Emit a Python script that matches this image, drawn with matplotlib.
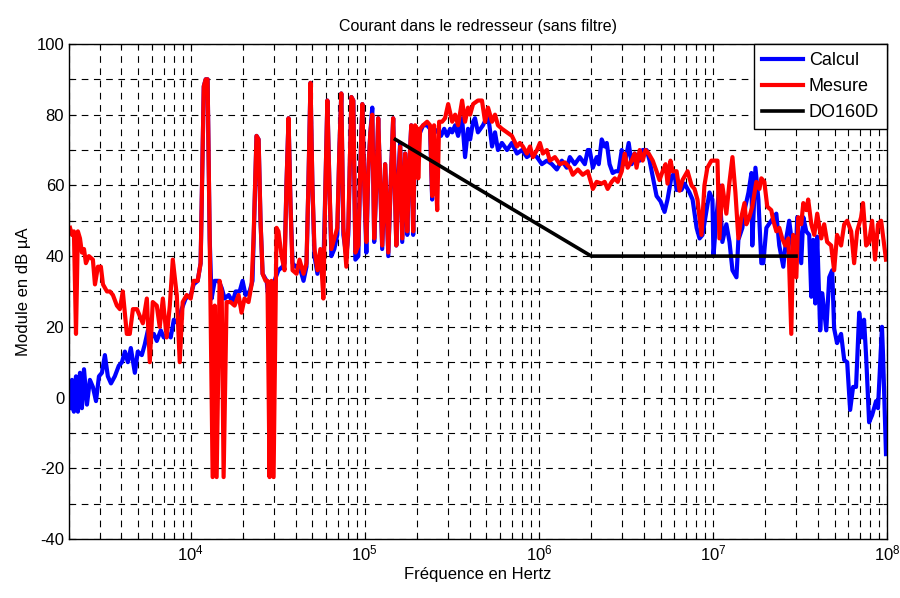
import numpy as np
import matplotlib
matplotlib.use("Agg")
import matplotlib.pyplot as plt
from matplotlib.ticker import LogLocator, MultipleLocator

plt.rcParams["font.family"] = ["Liberation Sans", "DejaVu Sans"]
plt.rcParams["axes.unicode_minus"] = False

# frequences en log10(Hz), valeurs en dB µA
lf_calcul = [
    3.307, 3.318, 3.329, 3.341, 3.352, 3.364, 3.375, 3.387, 3.404, 3.421,
    3.438, 3.456, 3.473, 3.490, 3.507, 3.524, 3.542, 3.564, 3.587, 3.605,
    3.622, 3.639, 3.656, 3.679, 3.696, 3.719, 3.736, 3.754, 3.771, 3.788,
    3.805, 3.828, 3.845, 3.868, 3.885, 3.903, 3.925, 3.948, 3.971, 4.000,
    4.017, 4.040, 4.057, 4.075, 4.086, 4.097, 4.109, 4.120, 4.138, 4.160,
    4.178, 4.195, 4.218, 4.241, 4.258, 4.281, 4.298, 4.315, 4.338, 4.355,
    4.378, 4.390, 4.401, 4.413, 4.436, 4.447, 4.464, 4.481, 4.504, 4.527,
    4.539, 4.550, 4.562, 4.573, 4.585, 4.602, 4.625, 4.648, 4.665, 4.676,
    4.688, 4.699, 4.711, 4.728, 4.745, 4.762, 4.774, 4.785, 4.797, 4.808,
    4.825, 4.842, 4.854, 4.865, 4.877, 4.894, 4.905, 4.923, 4.934, 4.946,
    4.963, 4.974, 4.986, 4.997, 5.009, 5.020, 5.032, 5.043, 5.054, 5.066,
    5.077, 5.089, 5.100, 5.117, 5.135, 5.152, 5.163, 5.181, 5.192, 5.203,
    5.215, 5.232, 5.244, 5.255, 5.267, 5.278, 5.289, 5.301, 5.318, 5.335,
    5.358, 5.375, 5.387, 5.398, 5.421, 5.438, 5.456, 5.473, 5.490, 5.502,
    5.519, 5.536, 5.559, 5.576, 5.593, 5.605, 5.622, 5.633, 5.650, 5.679,
    5.708, 5.731, 5.748, 5.765, 5.788, 5.817, 5.845, 5.874, 5.903, 5.931,
    5.960, 5.989, 6.017, 6.046, 6.075, 6.103, 6.132, 6.160, 6.178, 6.206,
    6.235, 6.264, 6.281, 6.292, 6.310, 6.332, 6.344, 6.361, 6.378, 6.390,
    6.406, 6.424, 6.441, 6.458, 6.476, 6.493, 6.516, 6.533, 6.550, 6.579,
    6.596, 6.619, 6.636, 6.654, 6.676, 6.699, 6.722, 6.739, 6.762, 6.779,
    6.791, 6.819, 6.837, 6.865, 6.883, 6.906, 6.923, 6.940, 6.963, 6.980,
    6.997, 7.003, 7.020, 7.037, 7.054, 7.077, 7.095, 7.112, 7.135, 7.146,
    7.169, 7.186, 7.204, 7.221, 7.226, 7.244, 7.261, 7.278, 7.289, 7.307,
    7.335, 7.364, 7.381, 7.404, 7.421, 7.438, 7.456, 7.473, 7.484, 7.507,
    7.519, 7.536, 7.553, 7.565, 7.576, 7.588, 7.599, 7.616, 7.628, 7.651,
    7.668, 7.685, 7.696, 7.713, 7.736, 7.754, 7.771, 7.788, 7.805, 7.822,
    7.840, 7.857, 7.868, 7.880, 7.897, 7.914, 7.937, 7.948, 7.971, 7.977,
    7.994,
]
db_calcul = [
    -3, 5, -4, 6, -4, 7, -3, 8, -2, 5,
    3, -1, 6, 7, 12, 6, 4, 6, 9, 10,
    13, 10, 14, 7, 13, 12, 15, 19, 17, 18,
    16, 19, 17, 18, 17, 22, 21, 25, 28, 29,
    32, 33, 38, 88, 90, 90, 45, 28, 33, 33,
    31, 28, 29, 27, 30, 30, 33, 29, 30, 33,
    74, 73, 50, 35, 33, 28, 32, 33, 36, 37,
    38, 60, 79, 55, 38, 37, 37, 33, 37, 60,
    89, 60, 40, 35, 40, 37, 60, 84, 60, 40,
    42, 46, 70, 86, 46, 40, 46, 85, 84, 39,
    40, 65, 83, 60, 41, 64, 75, 82, 44, 60,
    79, 60, 42, 66, 40, 65, 79, 43, 62, 72,
    44, 69, 46, 65, 77, 46, 76, 75, 75, 77,
    77, 76, 56, 76, 75, 74, 76, 74, 76, 75,
    77, 74, 79, 68, 76, 73, 78, 79, 75, 77,
    80, 71, 75, 70, 72, 70, 72, 69, 70, 68,
    69, 68, 66, 67, 66, 64.5, 67, 65, 68, 66,
    68, 66, 70, 70, 65, 68, 66, 73, 71, 72,
    66, 63.5, 64, 64, 70, 66, 72, 66, 69, 67,
    70, 70, 67, 62.5, 57, 55.5, 52.5, 56, 62.5, 63.5,
    58.7, 58.7, 60.5, 58, 56, 48, 45, 46, 53, 58,
    56, 40, 51, 60, 44, 49, 44, 36, 34, 44.6,
    48, 54, 58, 63.5, 43, 65, 56, 38, 38, 48,
    50, 52, 43, 37, 45, 50, 43, 36, 51, 38,
    51, 47, 46, 28.5, 44.6, 26.6, 45.5, 19, 29.5, 19,
    34, 36, 19.5, 15.4, 18, 10.6, 10, -3.5, 3, 3,
    24, 17, 22, 11.5, -7, -5, -1, -3, 20, 12,
    -16,
]

lf_mesure = [
    3.307, 3.318, 3.329, 3.341, 3.352, 3.364, 3.375, 3.387, 3.398, 3.415,
    3.438, 3.450, 3.467, 3.484, 3.496, 3.519, 3.536, 3.553, 3.576, 3.593,
    3.610, 3.633, 3.650, 3.668, 3.691, 3.708, 3.725, 3.748, 3.765, 3.782,
    3.805, 3.822, 3.840, 3.862, 3.880, 3.897, 3.920, 3.937, 3.954, 3.977,
    4.000, 4.017, 4.040, 4.057, 4.075, 4.086, 4.097, 4.109, 4.126, 4.138,
    4.149, 4.166, 4.178, 4.189, 4.206, 4.229, 4.252, 4.275, 4.292, 4.309,
    4.332, 4.350, 4.361, 4.378, 4.390, 4.401, 4.413, 4.430, 4.441, 4.453,
    4.464, 4.476, 4.493, 4.504, 4.522, 4.539, 4.550, 4.562, 4.573, 4.585,
    4.608, 4.625, 4.648, 4.665, 4.676, 4.688, 4.699, 4.711, 4.728, 4.745,
    4.762, 4.774, 4.785, 4.797, 4.808, 4.825, 4.842, 4.854, 4.865, 4.877,
    4.894, 4.905, 4.923, 4.934, 4.946, 4.963, 4.974, 4.986, 4.997, 5.009,
    5.020, 5.032, 5.043, 5.054, 5.066, 5.077, 5.089, 5.100, 5.117, 5.135,
    5.152, 5.163, 5.181, 5.192, 5.203, 5.215, 5.232, 5.244, 5.255, 5.267,
    5.278, 5.289, 5.301, 5.307, 5.318, 5.335, 5.358, 5.375, 5.387, 5.398,
    5.410, 5.416, 5.427, 5.444, 5.461, 5.479, 5.502, 5.519, 5.536, 5.559,
    5.576, 5.593, 5.605, 5.622, 5.650, 5.673, 5.691, 5.708, 5.731, 5.748,
    5.765, 5.788, 5.817, 5.845, 5.874, 5.891, 5.908, 5.931, 5.949, 5.966,
    5.989, 6.006, 6.023, 6.046, 6.063, 6.092, 6.120, 6.149, 6.178, 6.195,
    6.224, 6.252, 6.281, 6.310, 6.332, 6.361, 6.378, 6.395, 6.418, 6.436,
    6.453, 6.476, 6.493, 6.510, 6.533, 6.550, 6.561, 6.579, 6.596, 6.613,
    6.631, 6.654, 6.676, 6.693, 6.711, 6.728, 6.739, 6.756, 6.768, 6.791,
    6.808, 6.825, 6.854, 6.877, 6.894, 6.911, 6.934, 6.951, 6.968, 6.991,
    7.009, 7.026, 7.037, 7.054, 7.077, 7.095, 7.112, 7.129, 7.146, 7.163,
    7.181, 7.192, 7.209, 7.226, 7.249, 7.267, 7.278, 7.295, 7.312, 7.335,
    7.347, 7.364, 7.381, 7.398, 7.415, 7.433, 7.450, 7.461, 7.479, 7.490,
    7.507, 7.519, 7.536, 7.547, 7.565, 7.582, 7.599, 7.622, 7.639, 7.656,
    7.679, 7.696, 7.713, 7.736, 7.754, 7.771, 7.794, 7.811, 7.828, 7.851,
    7.862, 7.880, 7.897, 7.914, 7.931, 7.948, 7.966, 7.994,
]
db_mesure = [
    48, 46, 47, 18, 47, 45, 41, 42, 38, 40,
    39, 32, 37, 37, 32, 30, 30, 29, 26, 25,
    30, 18, 18, 25, 25, 23, 21, 28, 10, 27,
    26, 20, 28, 17, 26, 39, 29, 10, 27, 29,
    28, 33, 33, 38, 88, 90, 90, 45, -22.5, 26,
    -22.5, 33, 30, -22.5, 27, 27, 26, 29, 24, 28,
    27, 32, 45, 74, 73, 50, 35, 33, 33, -22.5,
    33, -22.5, 48, 47, 40, 36, 60, 79, 55, 36,
    35, 39, 35, 38, 60, 89, 60, 42, 36, 42,
    28, 60, 84, 60, 42, 45, 48, 70, 86, 48,
    37, 48, 85, 84, 41, 43, 65, 83, 60, 44,
    64, 75, 80, 45, 60, 79, 60, 43, 66, 41,
    65, 79, 43, 60, 71, 45, 69, 47, 65, 77,
    47, 77, 76, 62, 76, 77, 78, 77, 57, 77,
    60, 53, 78, 78, 79, 83, 78, 80, 77, 84,
    78, 82, 80, 83, 84, 84, 78, 82, 78, 80,
    77, 76, 75, 74, 71, 72, 71, 69, 71, 68,
    70, 72, 69, 70, 67, 68, 66, 66.5, 65, 63,
    64.5, 63, 64, 59, 61, 60.5, 61, 59, 61, 62,
    61, 64, 69, 65, 67, 69, 65, 70, 67, 70,
    69, 67, 64, 61.5, 64, 66, 60.5, 67, 64, 64,
    58.5, 61.5, 64, 60, 59, 56, 46, 60, 65, 67,
    67, 67, 45, 60, 52, 61, 68, 58, 45, 51,
    55, 49, 51, 54, 61, 59, 62, 61, 54, 53,
    50, 47, 48, 45, 43, 45, 18, 46, 34, 51,
    49, 55, 53, 56, 49, 46, 52, 45, 49, 44,
    43, 36, 46, 43, 49, 50, 47, 38, 47, 51,
    55, 43, 44, 50, 39, 49, 50, 39,
]

# gabarit DO160D
f_do160 = [1.5e5, 2e6, 3e7]
db_do160 = [73, 40, 40]

f_calcul = 10 ** np.array(lf_calcul)
f_mesure = 10 ** np.array(lf_mesure)

fig = plt.figure(figsize=(9, 5.98), dpi=100)
ax = fig.add_axes([0.0767, 0.0987, 0.9089, 0.8278])

ax.semilogx(f_calcul, db_calcul, color="#0000ff", lw=3, label="Calcul")
ax.semilogx(f_mesure, db_mesure, color="#ff0000", lw=3, label="Mesure")
ax.semilogx(f_do160, db_do160, color="k", lw=2.6, label="DO160D")

ax.set_xlim(2e3, 1e8)
ax.set_ylim(-40, 100)
ax.xaxis.set_major_locator(LogLocator(base=10, numticks=10))
ax.xaxis.set_minor_locator(LogLocator(base=10, subs=np.arange(2, 10), numticks=20))
ax.yaxis.set_major_locator(MultipleLocator(20))
ax.yaxis.set_minor_locator(MultipleLocator(10))

dash = (0, (6, 5))
ax.grid(True, which="both", axis="x", color="k", ls=dash, lw=0.8)
ax.grid(True, which="both", axis="y", color="k", ls=dash, lw=0.8)
ax.set_axisbelow(True)

ax.tick_params(which="both", direction="in", top=True, right=True,
               labelsize=12, width=0.8)
ax.tick_params(which="major", length=5)
ax.tick_params(which="minor", length=3)
for s in ax.spines.values():
    s.set_linewidth(1.0)

ax.set_title("Courant dans le redresseur (sans filtre)", fontsize=11.5, pad=9)
ax.set_xlabel("Fréquence en Hertz", fontsize=12, labelpad=2)
ax.set_ylabel("Module en dB µA", fontsize=12, labelpad=4)

leg = ax.legend(loc="upper right", fontsize=13, borderaxespad=0,
                fancybox=False, framealpha=1, edgecolor="k",
                handlelength=2.3, handletextpad=0.3, borderpad=0.45,
                labelspacing=0.5)
leg.get_frame().set_linewidth(1.0)

fig.savefig("out.png", dpi=100)
